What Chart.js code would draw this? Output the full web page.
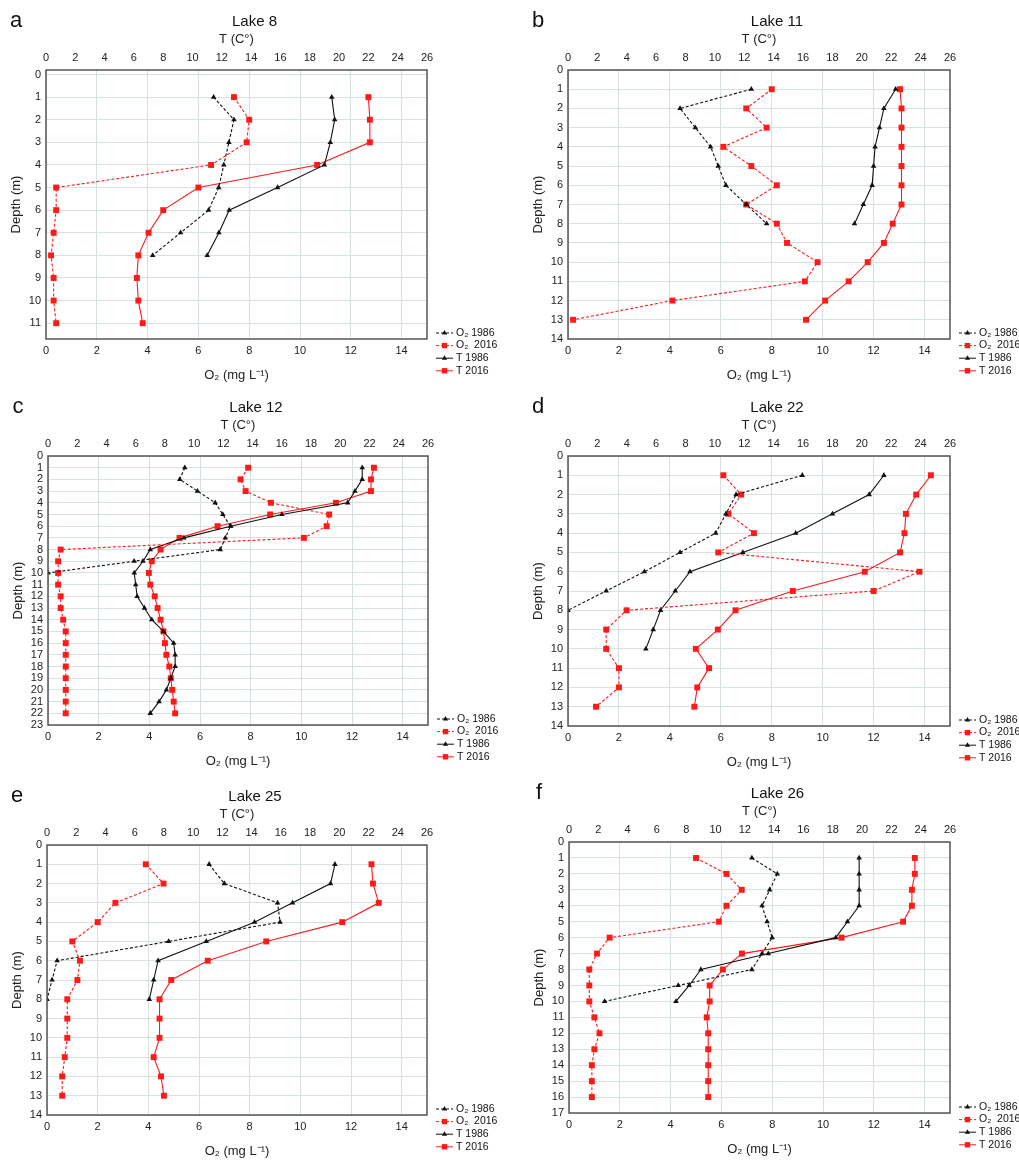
<!DOCTYPE html>
<html>
<head>
<meta charset="utf-8">
<script src="https://cdn.jsdelivr.net/npm/chart.js@4.4.1/dist/chart.umd.min.js"></script>
<style>
  body { margin: 0; background: #fff; }
  #wrap { position: relative; width: 1019px; height: 1160px; }
  canvas { position: absolute; }
</style>
</head>
<body>
<div id="wrap">
  <canvas id="lake8" width="509" height="390" style="left:0;top:0"></canvas>
  <canvas id="lake11" width="510" height="390" style="left:509px;top:0"></canvas>
  <canvas id="lake12" width="509" height="390" style="left:0;top:380px"></canvas>
  <canvas id="lake22" width="510" height="390" style="left:509px;top:380px"></canvas>
  <canvas id="lake25" width="509" height="390" style="left:0;top:770px"></canvas>
  <canvas id="lake26" width="510" height="390" style="left:509px;top:770px"></canvas>
</div>
<script>
// ---- data (depth in m, O2 in mg/L, T in deg C) ----
const legendLabels = ['O\u2082 1986', 'O\u2082  2016', 'T 1986', 'T 2016'];
const o2Ticks = [0, 2, 4, 6, 8, 10, 12, 14];
const tTicks = [0, 2, 4, 6, 8, 10, 12, 14, 16, 18, 20, 22, 24, 26];

const lake8Depth = [1, 2, 3, 4, 5, 6, 7, 8, 9, 10, 11];
const lake8O2_1986 = [6.6, 7.4, 7.2, 7.0, 6.8, 6.4, 5.3, 4.2];
const lake8O2_2016 = [7.4, 8.0, 7.9, 6.5, 0.4, 0.4, 0.3, 0.2, 0.3, 0.3, 0.4];
const lake8T_1986 = [19.5, 19.7, 19.4, 19.0, 15.8, 12.5, 11.8, 11.0];
const lake8T_2016 = [22.0, 22.1, 22.1, 18.5, 10.4, 8.0, 7.0, 6.3, 6.2, 6.3, 6.6];

const lake11Depth = [1, 2, 3, 4, 5, 6, 7, 8, 9, 10, 11, 12, 13];
const lake11O2_1986 = [7.2, 4.4, 5.0, 5.6, 5.9, 6.2, 7.0, 7.8];
const lake11O2_2016 = [8.0, 7.0, 7.8, 6.1, 7.2, 8.2, 7.0, 8.2, 8.6, 9.8, 9.3, 4.1, 0.2];
const lake11T_1986 = [22.3, 21.5, 21.2, 20.9, 20.8, 20.7, 20.1, 19.5];
const lake11T_2016 = [22.6, 22.7, 22.7, 22.7, 22.7, 22.7, 22.7, 22.1, 21.5, 20.4, 19.1, 17.5, 16.2];

const lake12Depth = [1, 2, 3, 4, 5, 6, 7, 8, 9, 10, 11, 12, 13, 14, 15, 16, 17, 18, 19, 20, 21, 22];
const lake12O2_1986 = [5.4, 5.2, 5.9, 6.6, 6.9, 7.2, 7.0, 6.8, 3.4, 0.0];
const lake12O2_2016 = [7.9, 7.6, 7.8, 8.8, 11.1, 11.0, 10.1, 0.5, 0.4, 0.4, 0.4, 0.5, 0.5, 0.6, 0.7, 0.7, 0.7, 0.7, 0.7, 0.7, 0.7, 0.7];
const lake12T_1986 = [21.5, 21.5, 21.0, 20.5, 16.0, 12.5, 9.3, 7.0, 6.5, 5.9, 6.0, 6.1, 6.6, 7.1, 7.9, 8.6, 8.7, 8.7, 8.4, 8.1, 7.6, 7.0];
const lake12T_2016 = [22.3, 22.1, 22.1, 19.7, 15.2, 11.6, 9.0, 7.7, 7.1, 6.9, 7.0, 7.3, 7.5, 7.7, 7.9, 8.0, 8.1, 8.3, 8.4, 8.5, 8.6, 8.7];

const lake22Depth = [1, 2, 3, 4, 5, 6, 7, 8, 9, 10, 11, 12, 13];
const lake22O2_1986 = [9.2, 6.6, 6.2, 5.8, 4.4, 3.0, 1.5, 0.0];
const lake22O2_2016 = [6.1, 6.8, 6.3, 7.3, 5.9, 13.8, 12.0, 2.3, 1.5, 1.5, 2.0, 2.0, 1.1];
const lake22T_1986 = [21.5, 20.5, 18.0, 15.5, 11.9, 8.3, 7.3, 6.3, 5.8, 5.3];
const lake22T_2016 = [24.7, 23.7, 23.0, 22.9, 22.6, 20.2, 15.3, 11.4, 10.2, 8.7, 9.6, 8.8, 8.6];

const lake25Depth = [1, 2, 3, 4, 5, 6, 7, 8, 9, 10, 11, 12, 13];
const lake25O2_1986 = [6.4, 7.0, 9.1, 9.2, 4.8, 0.4, 0.2, 0.0];
const lake25O2_2016 = [3.9, 4.6, 2.7, 2.0, 1.0, 1.3, 1.2, 0.8, 0.8, 0.8, 0.7, 0.6, 0.6];
const lake25T_1986 = [19.7, 19.4, 16.8, 14.2, 10.9, 7.6, 7.3, 7.0];
const lake25T_2016 = [22.2, 22.3, 22.7, 20.2, 15.0, 11.0, 8.5, 7.7, 7.7, 7.7, 7.3, 7.8, 8.0];

const lake26Depth = [1, 2, 3, 4, 5, 6, 7, 8, 9, 10, 11, 12, 13, 14, 15, 16];
const lake26O2_1986 = [7.2, 8.2, 7.9, 7.6, 7.8, 8.0, 7.6, 7.2, 4.3, 1.4];
const lake26O2_2016 = [5.0, 6.2, 6.8, 6.2, 5.9, 1.6, 1.1, 0.8, 0.8, 0.8, 1.0, 1.2, 1.0, 0.9, 0.9, 0.9];
const lake26T_1986 = [19.8, 19.8, 19.8, 19.8, 19.0, 18.2, 13.6, 9.0, 8.2, 7.3];
const lake26T_2016 = [23.6, 23.6, 23.4, 23.4, 22.8, 18.6, 11.8, 10.5, 9.6, 9.6, 9.4, 9.5, 9.5, 9.5, 9.5, 9.5];

Chart.defaults.font.family = '"Liberation Sans", Arial, sans-serif';
Chart.defaults.font.size = 11;
Chart.defaults.color = '#222';

const RED = '#ff1a1a';
const BLACK = '#111';
const GRID = '#d5e2de';

const seriesStyle = [
    { color: BLACK, dash: [3, 2], shape: 'triangle', axis: 'x', r: 3.2 },
    { color: RED, dash: [3, 2], shape: 'rect', axis: 'x', r: 4.2 },
    { color: BLACK, dash: [], shape: 'triangle', axis: 'x2', r: 3.2 },
    { color: RED, dash: [], shape: 'rect', axis: 'x2', r: 4.2 }
];

const toPoints = (depth, values) => values.map((v, i) => ({ x: v, y: depth[i] }));

function drawMarker(ctx, shape, x, y, color) {
    ctx.fillStyle = color;
    ctx.beginPath();
    if (shape === 'rect') {
        ctx.rect(x - 2.7, y - 2.7, 5.4, 5.4);
    } else {
        ctx.moveTo(x, y - 3);
        ctx.lineTo(x + 2.6, y + 1.5);
        ctx.lineTo(x - 2.6, y + 1.5);
        ctx.closePath();
    }
    ctx.fill();
}

// frame, panel letter, title and legend
const panelDecor = {
    id: 'panelDecor',
    afterDraw(chart, args, opts) {
        const { ctx, chartArea: a } = chart;
        ctx.save();
        ctx.strokeStyle = '#555';
        ctx.lineWidth = 1.5;
        ctx.strokeRect(a.left, a.top, a.right - a.left, a.bottom - a.top);

        ctx.fillStyle = '#111';
        ctx.textBaseline = 'middle';
        ctx.textAlign = 'center';
        ctx.font = '22px "Liberation Sans", Arial, sans-serif';
        ctx.fillText(opts.letter, a.left - 30, a.top - 49);
        ctx.font = '15px "Liberation Sans", Arial, sans-serif';
        ctx.fillText(opts.title, (a.left + a.right) / 2 + 18, a.top - 48);

        ctx.textAlign = 'left';
        ctx.font = '10.5px "Liberation Sans", Arial, sans-serif';
        legendLabels.forEach((lab, i) => {
            const s = seriesStyle[i];
            const y = a.bottom - 6 + i * 12.6;
            const x0 = a.right + 9;
            ctx.strokeStyle = s.color;
            ctx.lineWidth = 1;
            ctx.setLineDash(s.dash);
            ctx.beginPath();
            ctx.moveTo(x0, y);
            ctx.lineTo(x0 + 17, y);
            ctx.stroke();
            ctx.setLineDash([]);
            drawMarker(ctx, s.shape, x0 + 8.5, y, s.color);
            ctx.fillStyle = '#111';
            ctx.fillText(lab, x0 + 20, y);
        });
        ctx.restore();
    }
};

function makePanel(id, letter, title, depth, series, yMin, yMax, box) {
    const W = 509, H = 390;
    const yW = 40, topH = 45, botH = 48;
    new Chart(document.getElementById(id), {
        type: 'scatter',
        data: {
            datasets: series.map((vals, i) => ({
                label: legendLabels[i],
                data: toPoints(depth, vals),
                xAxisID: seriesStyle[i].axis,
                showLine: true,
                borderColor: seriesStyle[i].color,
                backgroundColor: seriesStyle[i].color,
                borderWidth: 1.1,
                borderDash: seriesStyle[i].dash,
                pointStyle: seriesStyle[i].shape,
                pointRadius: seriesStyle[i].r,
                pointBorderWidth: 0,
                tension: 0
            }))
        },
        options: {
            responsive: false,
            animation: false,
            events: [],
            layout: {
                padding: { left: box.l - yW, top: box.t - topH, right: W - box.r, bottom: H - box.b - botH }
            },
            plugins: {
                legend: { display: false },
                tooltip: { enabled: false },
                panelDecor: { letter: letter, title: title }
            },
            scales: {
                x: {
                    type: 'linear', position: 'bottom', min: 0, max: 15,
                    afterBuildTicks: s => { s.ticks = o2Ticks.map(v => ({ value: v })); },
                    ticks: { padding: 5, autoSkip: false, maxRotation: 0 },
                    grid: { color: GRID, drawTicks: false },
                    border: { display: false },
                    title: { display: true, text: 'O\u2082 (mg L\u207B\u00B9)', font: { size: 13 }, padding: { top: 0, bottom: 4 } },
                    afterFit: s => { s.height = botH; }
                },
                x2: {
                    type: 'linear', position: 'top', min: 0, max: 26,
                    afterBuildTicks: s => { s.ticks = tTicks.map(v => ({ value: v })); },
                    ticks: { padding: 5, autoSkip: false, maxRotation: 0 },
                    grid: { display: false, drawTicks: false },
                    border: { display: false },
                    title: { display: true, text: 'T (C\u00B0)', font: { size: 13 }, padding: { top: 7, bottom: 0 } },
                    afterFit: s => { s.height = topH; }
                },
                y: {
                    type: 'linear', reverse: true, min: yMin, max: yMax,
                    ticks: { stepSize: 1, padding: 5, includeBounds: false, autoSkip: false },
                    grid: { color: GRID, drawTicks: false },
                    border: { display: false },
                    title: { display: true, text: 'Depth (m)', font: { size: 13 }, padding: { top: 3, bottom: 0 } },
                    afterFit: s => { s.width = yW; }
                }
            }
        },
        plugins: [panelDecor]
    });
}

makePanel('lake8', 'a', 'Lake 8', lake8Depth,
    [lake8O2_1986, lake8O2_2016, lake8T_1986, lake8T_2016], -0.2, 11.7,
    { l: 46, r: 427, t: 70, b: 339 });
makePanel('lake11', 'b', 'Lake 11', lake11Depth,
    [lake11O2_1986, lake11O2_2016, lake11T_1986, lake11T_2016], 0, 14,
    { l: 59, r: 440, t: 70, b: 339 });
makePanel('lake12', 'c', 'Lake 12', lake12Depth,
    [lake12O2_1986, lake12O2_2016, lake12T_1986, lake12T_2016], 0, 23,
    { l: 48, r: 428, t: 76, b: 345 });
makePanel('lake22', 'd', 'Lake 22', lake22Depth,
    [lake22O2_1986, lake22O2_2016, lake22T_1986, lake22T_2016], 0, 14,
    { l: 59, r: 440, t: 76, b: 346 });
makePanel('lake25', 'e', 'Lake 25', lake25Depth,
    [lake25O2_1986, lake25O2_2016, lake25T_1986, lake25T_2016], 0, 14,
    { l: 47, r: 427, t: 75, b: 345 });
makePanel('lake26', 'f', 'Lake 26', lake26Depth,
    [lake26O2_1986, lake26O2_2016, lake26T_1986, lake26T_2016], 0, 17,
    { l: 60, r: 440, t: 72, b: 343 });
</script>
</body>
</html>
